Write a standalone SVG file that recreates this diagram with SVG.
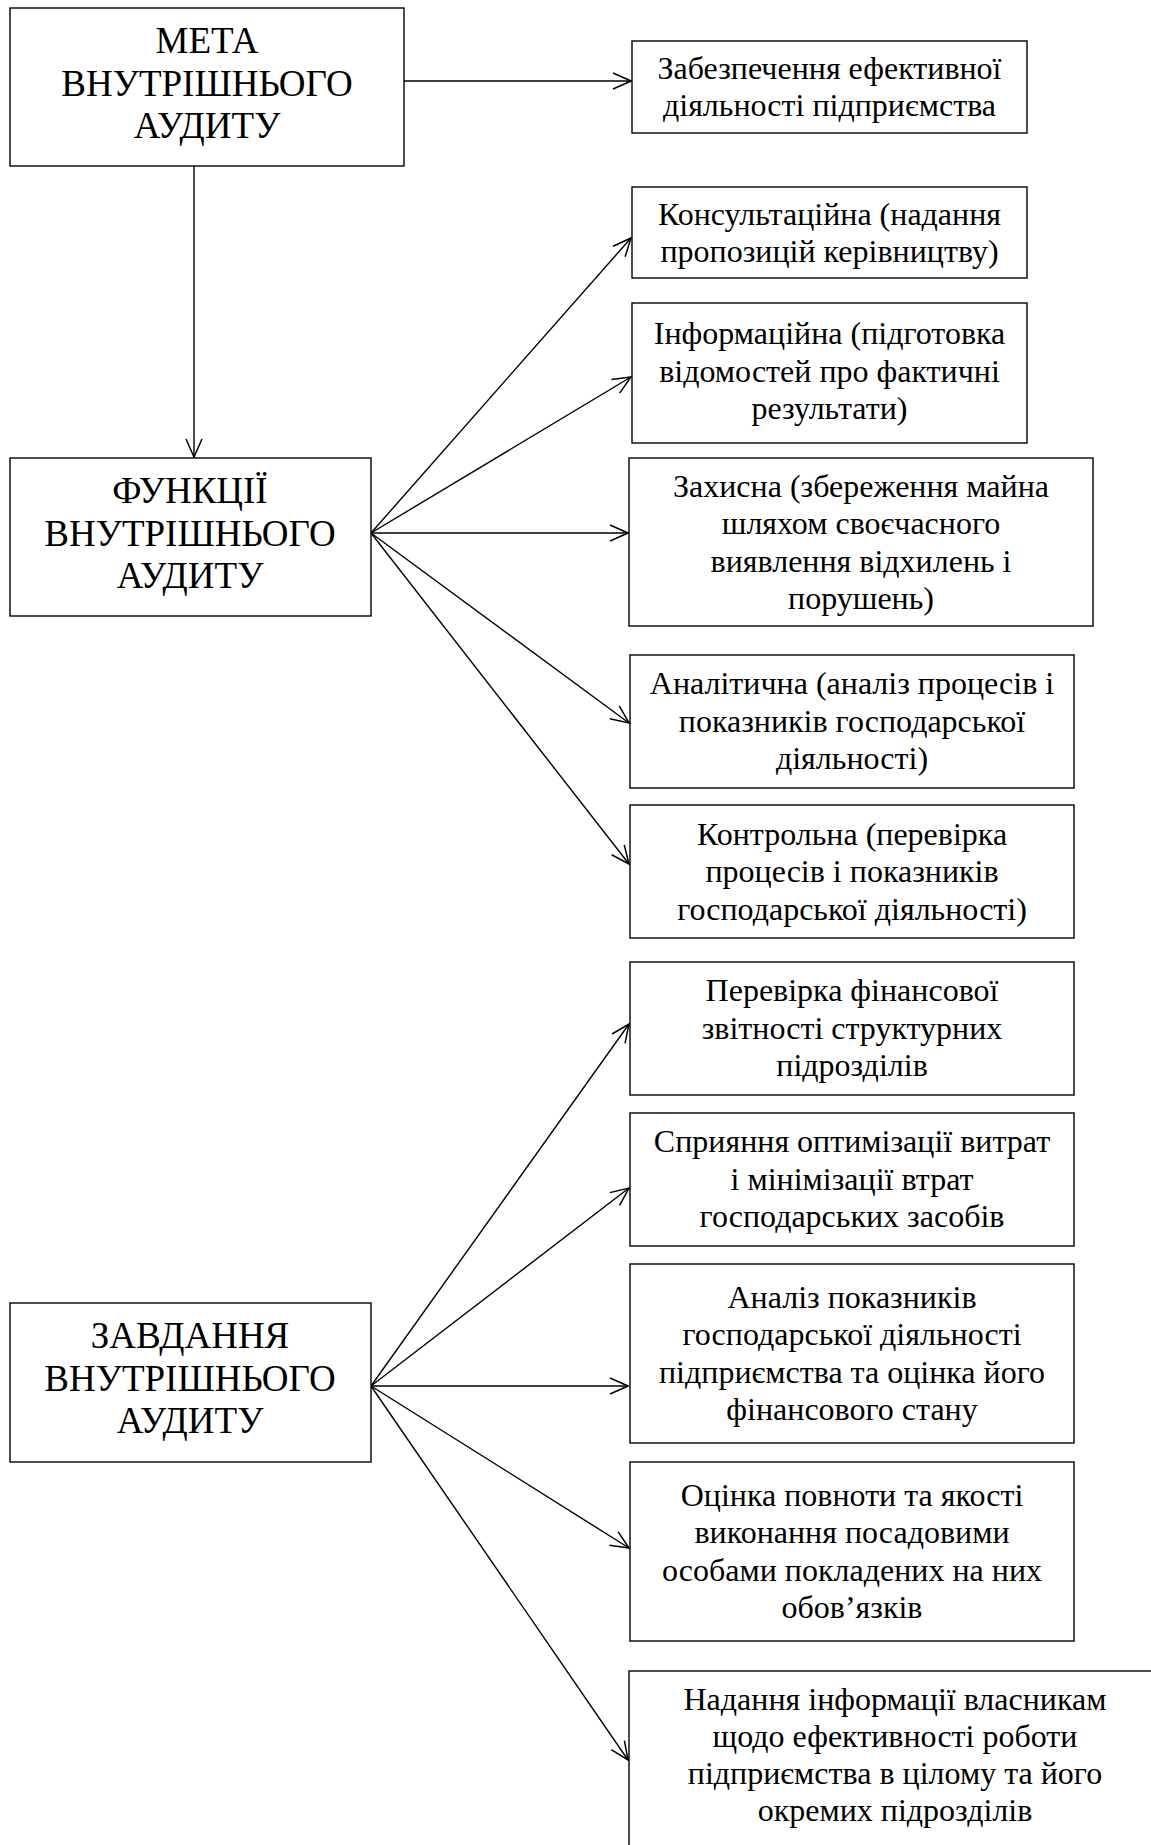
<svg xmlns="http://www.w3.org/2000/svg" width="1151" height="1845" viewBox="0 0 1151 1845">
<defs>
<marker id="arr" viewBox="0 0 20 18" refX="19" refY="9" markerWidth="20" markerHeight="18" markerUnits="userSpaceOnUse" orient="auto">
<path d="M1,1 L19,9 L1,17" fill="none" stroke="#000" stroke-width="1.5"/>
</marker>
<style>
.box{fill:#fff;stroke:#000;stroke-width:1.4}
.big{font-family:"Liberation Serif","Times New Roman",serif;font-size:37px;text-anchor:middle;fill:#000}
.sm{font-family:"Liberation Serif","Times New Roman",serif;font-size:32px;text-anchor:middle;fill:#000}
.con line{stroke:#000;stroke-width:1.4;marker-end:url(#arr)}
</style>
</defs>
<rect width="1151" height="1845" fill="#fff"/>

<g id="connectors" class="con">
<line x1="404" y1="81" x2="631" y2="81"/>
<line x1="194" y1="166" x2="194" y2="457"/>
<line x1="371" y1="533" x2="631" y2="238"/>
<line x1="371" y1="533" x2="631" y2="377"/>
<line x1="371" y1="533" x2="628" y2="533"/>
<line x1="371" y1="533" x2="629" y2="723"/>
<line x1="371" y1="533" x2="629" y2="864"/>
<line x1="371" y1="1386" x2="629" y2="1024"/>
<line x1="371" y1="1386" x2="629" y2="1188"/>
<line x1="371" y1="1386" x2="628" y2="1386"/>
<line x1="371" y1="1386" x2="629" y2="1548"/>
<line x1="371" y1="1386" x2="628" y2="1760"/>
</g>

<g id="meta">
<rect class="box" x="10" y="8" width="394" height="158"/>
<text class="big" x="207"><tspan x="207" y="53">МЕТА</tspan><tspan x="207" y="95.5">ВНУТРІШНЬОГО</tspan><tspan x="207" y="138">АУДИТУ</tspan></text>
</g>

<g id="funktsii">
<rect class="box" x="10" y="458" width="361" height="158"/>
<text class="big"><tspan x="190" y="503">ФУНКЦІЇ</tspan><tspan x="190" y="545.5">ВНУТРІШНЬОГО</tspan><tspan x="190" y="588">АУДИТУ</tspan></text>
</g>

<g id="zavdannia">
<rect class="box" x="10" y="1303" width="361" height="159"/>
<text class="big"><tspan x="190" y="1348">ЗАВДАННЯ</tspan><tspan x="190" y="1390.5">ВНУТРІШНЬОГО</tspan><tspan x="190" y="1433">АУДИТУ</tspan></text>
</g>

<g id="n1">
<rect class="box" x="632" y="41" width="395" height="92"/>
<text class="sm"><tspan x="829.5" y="78.5">Забезпечення ефективної</tspan><tspan x="829.5" y="116">діяльності підприємства</tspan></text>
</g>

<g id="n2">
<rect class="box" x="632" y="187" width="395" height="91"/>
<text class="sm"><tspan x="829.5" y="224.5">Консультаційна (надання</tspan><tspan x="829.5" y="261.5">пропозицій керівництву)</tspan></text>
</g>

<g id="n3">
<rect class="box" x="632" y="303" width="395" height="140"/>
<text class="sm"><tspan x="829.5" y="344">Інформаційна (підготовка</tspan><tspan x="829.5" y="381.5">відомостей про фактичні</tspan><tspan x="829.5" y="419">результати)</tspan></text>
</g>

<g id="n4">
<rect class="box" x="629" y="458" width="464" height="168"/>
<text class="sm"><tspan x="861" y="496.5">Захисна (збереження майна</tspan><tspan x="861" y="534">шляхом своєчасного</tspan><tspan x="861" y="571.5">виявлення відхилень і</tspan><tspan x="861" y="609">порушень)</tspan></text>
</g>

<g id="n5">
<rect class="box" x="630" y="655" width="444" height="133"/>
<text class="sm"><tspan x="852" y="694">Аналітична (аналіз процесів і</tspan><tspan x="852" y="731.5">показників господарської</tspan><tspan x="852" y="769">діяльності)</tspan></text>
</g>

<g id="n6">
<rect class="box" x="630" y="805" width="444" height="133"/>
<text class="sm"><tspan x="852" y="844.5">Контрольна (перевірка</tspan><tspan x="852" y="882">процесів і показників</tspan><tspan x="852" y="919.5">господарської діяльності)</tspan></text>
</g>

<g id="n7">
<rect class="box" x="630" y="962" width="444" height="133"/>
<text class="sm"><tspan x="852" y="1001">Перевірка фінансової</tspan><tspan x="852" y="1038.5">звітності структурних</tspan><tspan x="852" y="1076">підрозділів</tspan></text>
</g>

<g id="n8">
<rect class="box" x="630" y="1113" width="444" height="133"/>
<text class="sm"><tspan x="852" y="1152">Сприяння оптимізації витрат</tspan><tspan x="852" y="1189.5">і мінімізації втрат</tspan><tspan x="852" y="1227">господарських засобів</tspan></text>
</g>

<g id="n9">
<rect class="box" x="630" y="1264" width="444" height="179"/>
<text class="sm"><tspan x="852" y="1307.5">Аналіз показників</tspan><tspan x="852" y="1345">господарської діяльності</tspan><tspan x="852" y="1382.5">підприємства та оцінка його</tspan><tspan x="852" y="1420">фінансового стану</tspan></text>
</g>

<g id="n10">
<rect class="box" x="630" y="1462" width="444" height="179"/>
<text class="sm"><tspan x="852" y="1505.5">Оцінка повноти та якості</tspan><tspan x="852" y="1543">виконання посадовими</tspan><tspan x="852" y="1580.5">особами покладених на них</tspan><tspan x="852" y="1618">обов’язків</tspan></text>
</g>

<g id="n11">
<rect class="box" x="629" y="1671" width="540" height="200"/>
<text class="sm"><tspan x="895" y="1710">Надання інформації власникам</tspan><tspan x="895" y="1747">щодо ефективності роботи</tspan><tspan x="895" y="1784">підприємства в цілому та його</tspan><tspan x="895" y="1821">окремих підрозділів</tspan></text>
</g>
</svg>
